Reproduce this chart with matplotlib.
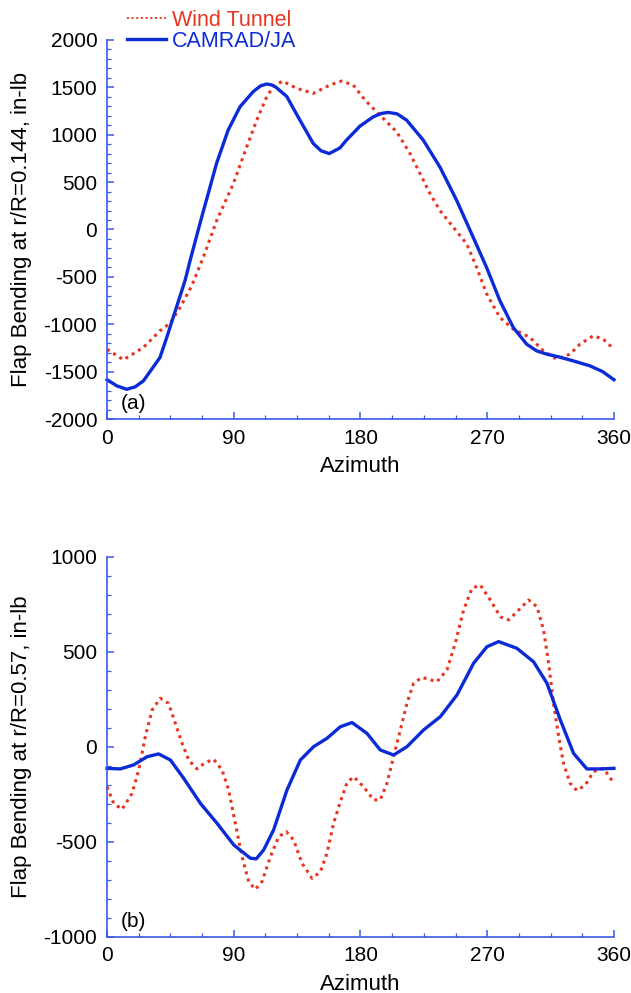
import numpy as np
import matplotlib.pyplot as plt
from matplotlib.ticker import MultipleLocator

plt.rcParams['font.family'] = ['Liberation Sans', 'DejaVu Sans']
plt.rcParams['axes.unicode_minus'] = False

# (a) r/R = 0.144
wt_a_az = [0, 11.6, 25.8, 37.6, 45, 52, 60, 68.4, 77.9, 89.7, 99.2, 106.3, 113.4, 118,
           124.7, 134.7, 146.5, 158.3, 166.6, 174.9, 183.2, 196.2, 205.7, 215.2, 222.3,
           229.4, 236.4, 245.9, 255.4, 262.5, 269.6, 279, 288.5, 300.4, 309.8, 319.3,
           328.8, 335.9, 345.3, 352.4, 360]
wt_a_val = [-1263, -1375, -1245, -1069, -985, -820, -600, -293, 95, 483, 871, 1153, 1400, 1506,
            1566, 1489, 1436, 1524, 1566, 1524, 1365, 1171, 1030, 801, 589,
            378, 201, 24, -151, -399, -680, -928, -1051, -1139, -1280, -1368,
            -1315, -1209, -1122, -1157, -1263]

cj_a_az = [0, 7, 14, 20, 25.8, 30.5, 37.6, 42.4, 48, 55.4, 59, 66, 77.8, 86, 94.4, 103.8,
           109, 113.4, 117, 120, 127.6, 137, 146.5, 152, 157.8, 165.4, 170, 179.6, 189,
           195, 199.7, 206, 212.8, 224.6, 236.4, 248.3, 260, 269.5, 279, 288.5, 298, 305,
           312.2, 321, 331, 343, 352, 360]
cj_a_val = [-1585, -1650, -1686, -1660, -1598, -1500, -1351, -1140, -880, -540, -328, 63, 698,
            1048, 1294, 1454, 1515, 1535, 1525, 1500, 1404, 1153, 907, 830, 801, 860, 942,
            1090, 1188, 1225, 1235, 1220, 1153, 942, 659, 307, -81, -399, -751, -1034,
            -1210, -1280, -1315, -1345, -1386, -1439, -1500, -1585]

# (b) r/R = 0.57
wt_b_az = [0, 4.7, 10.6, 17.8, 22.5, 27.2, 32, 37.8, 43.7, 48.5, 53.3, 58, 63.9, 69.8, 75.7,
           81.7, 86.4, 91.1, 95.9, 100.6, 105.3, 110.1, 116, 121.9, 127.3, 132.5, 138.5,
           145.6, 151.5, 156.2, 160.9, 165.7, 170.4, 175.1, 182.2, 189.3, 194, 198.8, 203.5,
           208.3, 213, 217.7, 223.7, 234.3, 241.4, 247.3, 253.2, 259.2, 265.1, 272.2, 279.3,
           285.2, 292.3, 299.4, 305.3, 310, 313.6, 317.1, 320.7, 324.2, 328.9, 333.7, 339.6,
           345.5, 352.6, 360]
wt_b_val = [-211, -298, -330, -246, -123, 53, 193, 255, 228, 123, 18, -70, -117, -84, -66,
            -123, -228, -403, -579, -710, -751, -710, -579, -474, -447, -491, -614,
            -693, -658, -561, -403, -290, -190, -158, -211, -280, -280, -193, -53,
            88, 228, 334, 365, 342, 404, 544, 719, 834, 851, 772, 684,
            667, 719, 772, 737, 614, 439, 228, 53, -88, -193, -231, -202,
            -131, -114, -193]

cj_b_az = [0, 9.4, 18.9, 28.4, 36.6, 45, 54.4, 66.3, 78.1, 90, 101.8, 106, 111.2, 118.3, 127.8,
           137.3, 146.7, 156.2, 165.7, 174, 184.6, 194, 203.5, 213, 224.8, 236.7, 248.5, 260.3,
           269.8, 278.1, 291, 302.9, 312.4, 321.9, 331.3, 340.8, 350.3, 360]
cj_b_val = [-114, -117, -96, -53, -38, -70, -166, -298, -403, -517, -587, -590, -544, -438, -228,
            -70, 0, 44, 105, 127, 70, -17, -44, 0, 88, 158, 272, 439,
            526, 553, 518, 447, 334, 141, -35, -117, -117, -114]

red = '#e8351f'
blue = '#0b2bd6'
axcol = '#3a5ae8'
fs_tick = 15
fs_lab = 16

fig = plt.figure(figsize=(6.31, 9.93), dpi=100)
ax1 = fig.add_axes([0.1696, 0.578, 0.8034, 0.3818])
ax2 = fig.add_axes([0.1696, 0.0567, 0.8034, 0.3827])


def style(ax, ylim, ymaj, ymin, ylabel, tag):
    ax.set_xlim(0, 360)
    ax.set_ylim(*ylim)
    ax.xaxis.set_major_locator(MultipleLocator(90))
    ax.xaxis.set_minor_locator(MultipleLocator(22.5))
    ax.yaxis.set_major_locator(MultipleLocator(ymaj))
    ax.yaxis.set_minor_locator(MultipleLocator(ymin))
    for s in ['top', 'right']:
        ax.spines[s].set_visible(False)
    for s in ['left', 'bottom']:
        ax.spines[s].set_color(axcol)
        ax.spines[s].set_linewidth(1.2)
    ax.tick_params(which='both', direction='in', colors=axcol, labelcolor='black',
                   labelsize=fs_tick)
    ax.tick_params(which='major', length=5, width=1.1)
    ax.tick_params(which='minor', length=3, width=0.9)
    ax.tick_params(axis='y', pad=7)
    ax.tick_params(axis='x', pad=7)
    ax.set_xlabel('Azimuth', fontsize=fs_lab, labelpad=6)
    ax.set_ylabel(ylabel, fontsize=fs_lab)
    ax.yaxis.set_label_coords(-0.148, 0.5)
    ax.text(0.027, 0.04, tag, transform=ax.transAxes, fontsize=fs_tick,
            ha='left', va='center')


ax1.plot(wt_a_az, wt_a_val, color=red, lw=2.2, ls=(0, (1, 1.4)), label='Wind Tunnel',
         clip_on=False)
ax1.plot(cj_a_az, cj_a_val, color=blue, lw=2.4, label='CAMRAD/JA', clip_on=False)
style(ax1, (-2000, 2000), 500, 100, 'Flap Bending at r/R=0.144, in-lb', '(a)')

ax2.plot(wt_b_az, wt_b_val, color=red, lw=2.2, ls=(0, (1, 1.4)), clip_on=False)
ax2.plot(cj_b_az, cj_b_val, color=blue, lw=2.4, clip_on=False)
style(ax2, (-1000, 1000), 500, 100, 'Flap Bending at r/R=0.57, in-lb', '(b)')

leg = ax1.legend(loc='upper left', bbox_to_anchor=(127 / 631, 1 - 10 / 993),
                 bbox_transform=fig.transFigure, frameon=False, labelcolor='linecolor',
                 fontsize=15.5, handlelength=1.8, handletextpad=0.3, borderpad=0,
                 borderaxespad=0, labelspacing=0.0)
leg.get_lines()[0].set_linewidth(1.4)

fig.savefig('out.png', dpi=100)
